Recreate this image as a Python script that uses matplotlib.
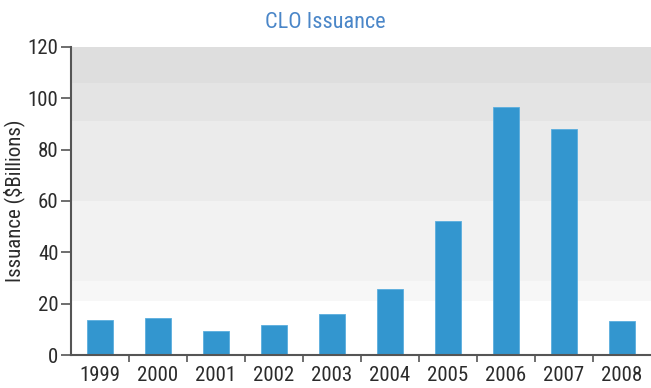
import matplotlib
matplotlib.use("Agg")
import matplotlib.pyplot as plt
from matplotlib import font_manager

years = ["1999", "2000", "2001", "2002", "2003", "2004", "2005", "2006", "2007", "2008"]
issuance = [13.6, 14.6, 9.2, 11.6, 15.9, 25.7, 52.3, 96.6, 88.2, 13.3]

title = "CLO Issuance"
y_label = "Issuance ($Billions)"
y_ticks = [0, 20, 40, 60, 80, 100, 120]

# Shaded background bands: (low, high, colour)
bands = [(0, 21, "#ffffff"), (21, 29, "#f7f7f7"), (29, 60, "#f2f2f2"),
         (60, 91, "#ebebeb"), (91, 106, "#e4e4e4"), (106, 120, "#dedede")]

text_color = "#2b2b2b"
axis_color = "#555555"

# Pick a condensed sans family
available = {f.name for f in font_manager.fontManager.ttflist}
narrow = "DejaVu Sans"
for cand in ("Roboto Condensed", "Archivo Narrow", "Asap Condensed",
             "PT Sans Narrow", "Liberation Sans Narrow", "Open Sans Condensed"):
    if cand in available:
        narrow = cand
        break
font = dict(family=narrow)

fig = plt.figure(figsize=(6.51, 3.88), dpi=100)
ax = fig.add_axes([0.109, 0.085, 0.891, 0.794])

for lo, hi, c in bands:
    ax.axhspan(lo, hi, color=c, zorder=0, lw=0)

x = range(len(years))
ax.bar(x, issuance, width=0.44, color="#3396cf", edgecolor="#5aaede",
       linewidth=0.6, zorder=2)

ax.set_xlim(-0.5, len(years) - 0.5)
ax.set_ylim(0, 120)
ax.set_yticks(y_ticks)
ax.set_yticklabels([str(v) for v in y_ticks], fontsize=15, color=text_color, **font)

ax.set_xticks(list(x))
ax.set_xticklabels(years, fontsize=15, color=text_color, **font)
ax.tick_params(axis="x", which="major", length=0, pad=8)
ax.set_xticks([i + 0.5 for i in range(len(years) - 1)], minor=True)
ax.tick_params(axis="x", which="minor", length=5, width=1.2, color=axis_color, direction="out")
ax.tick_params(axis="y", length=7, width=1.2, color=axis_color, pad=2)

for side in ("top", "right"):
    ax.spines[side].set_visible(False)
for side in ("left", "bottom"):
    ax.spines[side].set_color(axis_color)
    ax.spines[side].set_linewidth(1.5)

ax.set_ylabel(y_label, fontsize=15, color=text_color, **font)
ax.yaxis.set_label_coords(-0.079, 0.5)
fig.text(0.5, 0.943, title, ha="center", va="center", fontsize=16,
         color="#4a86c8", **font)

fig.savefig("out.png", dpi=100)
